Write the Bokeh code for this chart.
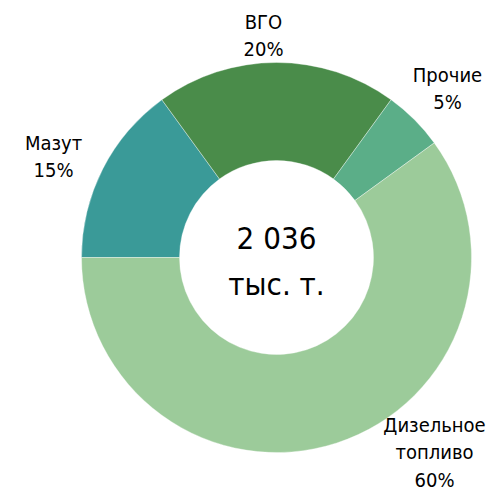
import math
from bokeh.plotting import figure
from bokeh.models import ColumnDataSource
from bokeh.core.properties import value
from bokeh.embed import file_html
from bokeh.resources import INLINE

# Data
categories = ["Мазут", "ВГО", "Прочие", "Дизельное\nтопливо"]
shares = [15, 20, 5, 60]
colors = ["#3a9a98", "#4a8c4a", "#5bae88", "#9ccb9a"]
total_label = "2 036"
unit_label = "тыс. т."

# Layout (pixel-like data units)
W, H = 486, 492
cx, cy = 276, 235
r_out, r_in = 195, 97
# label block centres relative to donut centre
label_dx = [-223, -13, 171, 158]
label_dy = [101, 222, 169, -195]

total = sum(shares)
starts, ends = [], []
cum = 0
for s in shares:
    starts.append(math.pi - 2 * math.pi * cum / total)
    cum += s
    ends.append(math.pi - 2 * math.pi * cum / total)

src = ColumnDataSource(dict(start=starts, end=ends, color=colors))

p = figure(width=W, height=H, x_range=(0, W), y_range=(0, H),
           output_backend="svg", toolbar_location=None, min_border=0)
p.axis.visible = False
p.grid.visible = False
p.outline_line_color = None
p.background_fill_color = "white"
p.border_fill_color = "white"

p.annular_wedge(x=cx, y=cy, inner_radius=r_in, outer_radius=r_out,
                start_angle="start", end_angle="end", direction="clock",
                fill_color="color", line_color="white", line_width=0.6,
                line_alpha=0.6, source=src)

font = value("'DejaVu Sans Condensed', Roboto, sans-serif")
labels = [f"{c}\n{s}%" for c, s in zip(categories, shares)]
lsrc = ColumnDataSource(dict(x=[cx + d for d in label_dx],
                             y=[cy + d for d in label_dy], t=labels))
p.text(x="x", y="y", text="t", source=lsrc, text_font=font,
       text_font_size="20px", text_align="center", text_baseline="middle",
       text_line_height=1.15, text_color="black")

p.text(x=[cx], y=[cy + 20], text=[total_label], text_font=font,
       text_font_size="31px", text_align="center", text_baseline="middle",
       text_color="black")
p.text(x=[cx], y=[cy - 26], text=[unit_label], text_font=font,
       text_font_size="31px", text_align="center", text_baseline="middle",
       text_color="black")

open("out.html", "w").write(file_html(p, INLINE))
